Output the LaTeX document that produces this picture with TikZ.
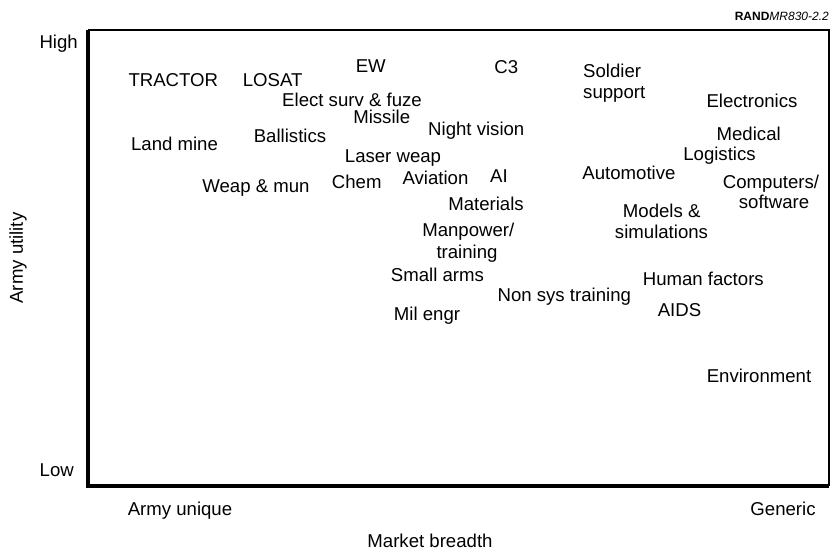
\documentclass[tikz,border=0pt]{standalone}
\usepackage{fontspec}
\setmainfont{Liberation Sans}
\begin{document}
\begin{tikzpicture}[x=1pt,y=-1pt,
  lab/.style={anchor=base,inner sep=0pt,font=\fontsize{18.6}{21}\selectfont},
  thickedge/.style={line width=4pt},
  thinedge/.style={line width=2pt}]
\useasboundingbox (0,0) rectangle (836,554);
% frame
\coordinate (tl) at (88,30);
\coordinate (tr) at (829,30);
\coordinate (br) at (829,486);
\coordinate (bl) at (88,486);
\draw[thinedge] (tl) -- (tr) -- (br);
\draw[thickedge] (tl) -- (bl) -- (br);
% source tag
\node[anchor=base east,inner sep=0pt,font=\fontsize{12}{14}\selectfont] (tag) at (829,20) {\textbf{RAND}\textit{MR830-2.2}};
% axis labels
\node[lab,anchor=base east] (high) at (78,48) {High};
\node[lab,anchor=base east] (low) at (74,476) {Low};
\node[lab,rotate=90,anchor=center] (util) at (18,258) {Army utility};
\node[lab] (unique) at (180,515) {Army unique};
\node[lab] (generic) at (783,515) {Generic};
\node[lab] (market) at (430,547) {Market breadth};
% items
\node[lab] (tractor) at (173.3,86) {TRACTOR};
\node[lab] (losat) at (272.7,86) {LOSAT};
\node[lab] (ew) at (370.8,72.7) {EW};
\node[lab] (c3) at (506.3,73) {C3};
\node[lab,anchor=base west] (soldierA) at (583,77.3) {Soldier};
\node[lab,anchor=base west] (soldierB) at (583,98.3) {support};
\node[lab] (elect) at (352,106) {Elect surv \& fuze};
\node[lab] (missile) at (381.7,123.3) {Missile};
\node[lab] (electronics) at (752,107.3) {Electronics};
\node[lab] (night) at (476.3,135) {Night vision};
\node[lab] (landmine) at (174.5,150) {Land mine};
\node[lab] (ballistics) at (290,142) {Ballistics};
\node[lab] (medical) at (748.7,140.7) {Medical};
\node[lab] (laser) at (393,162) {Laser weap};
\node[lab] (logistics) at (719.5,160) {Logistics};
\node[lab] (weap) at (256,192.5) {Weap \& mun};
\node[lab] (chem) at (356.7,188.3) {Chem};
\node[lab] (aviation) at (435.5,184.3) {Aviation};
\node[lab] (ai) at (499,182) {AI};
\node[lab] (auto) at (629,179.3) {Automotive};
\node[lab] (compA) at (771,188.3) {Computers/};
\node[lab] (compB) at (774,208.3) {software};
\node[lab] (materials) at (486,210.7) {Materials};
\node[lab] (modelsA) at (661.7,217.3) {Models \&};
\node[lab] (modelsB) at (661.5,238.3) {simulations};
\node[lab] (manA) at (468.3,236.7) {Manpower/};
\node[lab] (manB) at (467,258.3) {training};
\node[lab] (small) at (437.5,281.7) {Small arms};
\node[lab] (human) at (703.3,285) {Human factors};
\node[lab] (nonsys) at (564.3,301.7) {Non sys training};
\node[lab] (aids) at (679.5,316) {AIDS};
\node[lab] (mil) at (427,320.7) {Mil engr};
\node[lab] (env) at (759,382.7) {Environment};
\end{tikzpicture}
\end{document}
